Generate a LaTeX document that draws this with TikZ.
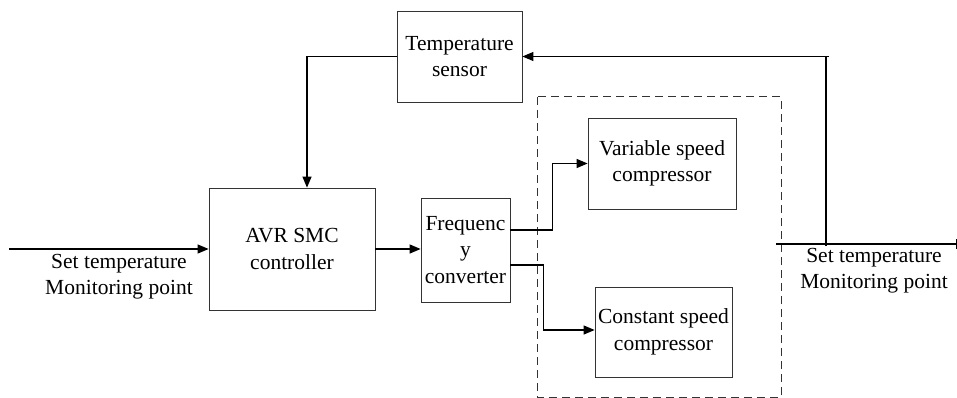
\documentclass[tikz,border=0pt]{standalone}
\usepackage{fontspec}
\setmainfont{Liberation Serif}
\usetikzlibrary{arrows.meta,calc}
\begin{document}
\begin{tikzpicture}[x=1pt,y=-1pt,
  blk/.style={draw=black!80,line width=0.8pt,rectangle,inner sep=0pt,align=center,
    font=\fontsize{21.5}{26.5}\selectfont},
  lbl/.style={inner sep=0pt,align=center,font=\fontsize{21.5}{25.5}\selectfont},
  conn/.style={line width=1.2pt,black},
  arr/.style={conn,-{Triangle[length=11pt,width=9pt]}},
  grp/.style={draw=black!80,line width=1pt,dash pattern=on 8pt off 5pt}]
\useasboundingbox (0,0) rectangle (957,398);
% group box
\draw[grp] (537,97) rectangle (781,397);
% blocks
\node[blk,minimum width=125pt,minimum height=91pt] (sensor) at (459.5,56.5) {Temperature\\sensor};
\node[blk,minimum width=166pt,minimum height=122pt] (avr) at (292,249) {AVR SMC\\controller};
\node[blk,minimum width=89pt,minimum height=104pt] (fc) at (465.5,250) {Frequenc\\y\\converter};
\node[blk,minimum width=148pt,minimum height=91pt] (var) at (662,163.5) {Variable speed\\compressor};
\node[blk,minimum width=137pt,minimum height=90pt] (const) at (663.5,332) {Constant speed\\compressor};
% labels
\node[lbl] (inlbl) at (119,276.5) {Set temperature\\Monitoring point};
\node[lbl] (outlbl) at (874,270.5) {Set temperature\\Monitoring point};
% coordinates
\coordinate (in) at (9,249);
\coordinate (fbstart) at (776,244);
\coordinate (fbend) at (957,244);
\coordinate (fbc) at (826,246);
\coordinate (top) at (829,56.5);
% connectors
\draw[arr] (in) -- (avr.west);
\draw[arr] (avr.east) -- (avr.east -| fc.west);
\draw[arr] (sensor.west) -| ([xshift=15pt]avr.north);
\draw[arr] ([yshift=20pt]fc.east) -- ++(42,0) |- (var.west);
\draw[arr] ([yshift=-15pt]fc.east) -- ++(33,0) |- ([yshift=2pt]const.west);
\draw[conn,-{Bar[width=10pt]}] (fbstart) -- (fbend);
\draw[conn] (fbc) -- (fbc |- top);
\draw[arr] (top) -- (top -| sensor.east);
\end{tikzpicture}
\end{document}
